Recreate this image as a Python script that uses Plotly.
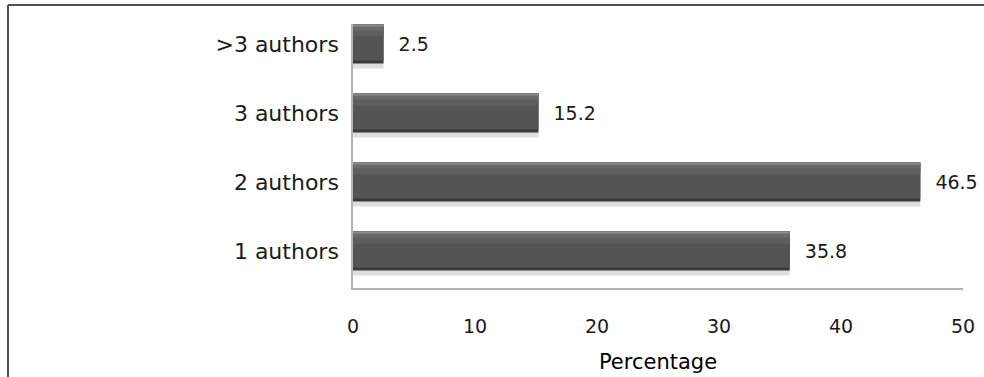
import plotly.graph_objects as go

# Share of papers by number of authors
categories = ["1 authors", "2 authors", "3 authors", ">3 authors"]
percentages = [35.8, 46.5, 15.2, 2.5]
x_ticks = [0, 10, 20, 30, 40, 50]

FONT = "DejaVu Sans"
BAR_W = 0.565
PX = 1 / 69.0  # one pixel in category units

fig = go.Figure()

# Layered bars give the bevelled, shaded look: shadow, dark base, body, highlights
layers = [
    # (offset from bar centre, width, colour)
    (-BAR_W / 2 - 5 * PX, BAR_W, "rgba(0,0,0,0.13)"),
    (-BAR_W / 2, BAR_W, "#3a3a3a"),
    (-BAR_W / 2 + 3 * PX, BAR_W - 3 * PX, "#545454"),
    (BAR_W / 2 - 12 * PX, 12 * PX, "#5e5e5e"),
    (BAR_W / 2 - 6 * PX, 6 * PX, "#6a6a6a"),
    (BAR_W / 2 - 2 * PX, 2 * PX, "#8c8c8c"),
]
for i, (off, w, col) in enumerate(layers):
    is_base = i == 1
    fig.add_trace(go.Bar(
        x=percentages,
        y=categories,
        orientation="h",
        width=w,
        offset=off,
        marker=dict(color=col, line=dict(width=0)),
        text=[f"  {v}" for v in percentages] if is_base else None,
        textposition="outside" if is_base else "none",
        textfont=dict(family=FONT, size=19, color="#1a1a1a"),
        cliponaxis=False,
        hoverinfo="skip",
        showlegend=False,
    ))

fig.update_layout(
    width=984,
    height=377,
    margin=dict(l=353, r=21, t=24, b=89),
    barmode="overlay",
    paper_bgcolor="white",
    plot_bgcolor="white",
    font=dict(family=FONT, color="#1a1a1a"),
    xaxis=dict(
        range=[0, 50],
        tickvals=x_ticks,
        ticktext=[str(t) for t in x_ticks],
        tickfont=dict(family=FONT, size=19, color="#1a1a1a"),
        ticks="",
        ticklabelstandoff=20,
        showgrid=False,
        zeroline=False,
        showline=True,
        linecolor="#b4b4b4",
        linewidth=1.5,
        automargin=False,
        title=dict(text="Percentage", font=dict(family=FONT, size=21, color="#000"),
                   standoff=19),
    ),
    yaxis=dict(
        type="category",
        categoryorder="array",
        categoryarray=categories,
        range=[-0.536, 3.29],
        tickfont=dict(family=FONT, size=22, color="#1a1a1a"),
        ticks="",
        ticklabelstandoff=8,
        showgrid=False,
        zeroline=False,
        showline=True,
        linecolor="#b4b4b4",
        linewidth=1.5,
        automargin=False,
    ),
    shapes=[
        # chart frame: top and left border
        dict(type="line", xref="paper", yref="paper",
             x0=-0.5656, x1=1.05, y0=1.072, y1=1.072,
             line=dict(color="#505050", width=2)),
        dict(type="line", xref="paper", yref="paper",
             x0=-0.5656, x1=-0.5656, y0=1.072, y1=-0.35,
             line=dict(color="#505050", width=2)),
    ],
)

fig.write_html("out.html")
